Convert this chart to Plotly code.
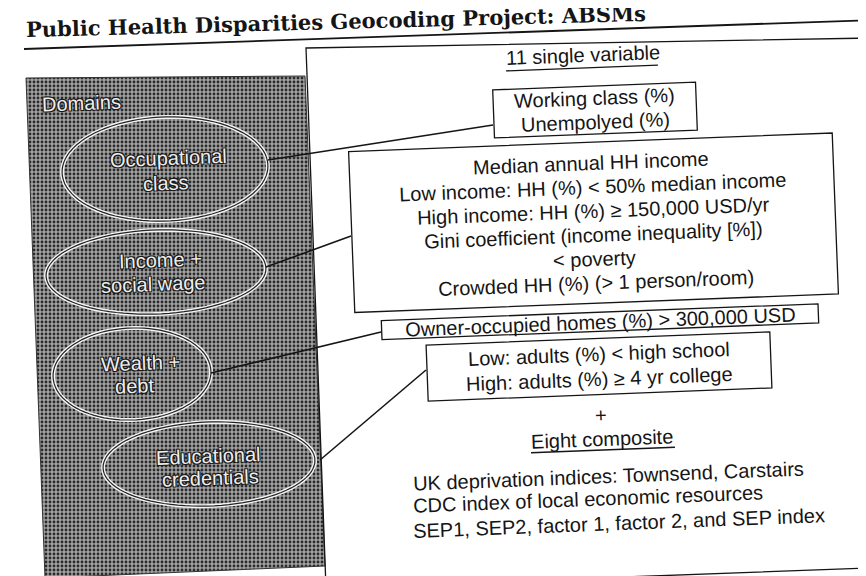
import math
import plotly.graph_objects as go

# ---------------- content (text of the diagram) ----------------
title_text = "Public Health Disparities Geocoding Project: ABSMs"
domains_label = "Domains"
domain_names = [
    ["Occupational", "class"],
    ["Income +", "social wage"],
    ["Wealth +", "debt"],
    ["Educational", "credentials"],
]
single_header = "11 single variable"
single_groups = [
    ["Working class (%)", "Unempolyed (%)"],
    ["Median annual HH income",
     "Low income: HH (%) < 50% median income",
     "High income: HH (%) \u2265 150,000 USD/yr",
     "Gini coefficient (income inequality [%])",
     "< poverty",
     "Crowded HH (%) (> 1 person/room)"],
    ["Owner-occupied homes (%) > 300,000 USD"],
    ["Low: adults (%) < high school",
     "High: adults (%) \u2265 4 yr college"],
]
plus_sign = "+"
composite_header = "Eight composite"
composite_items = [
    "UK deprivation indices: Townsend, Carstairs",
    "CDC index of local economic resources",
    "SEP1, SEP2, factor 1, factor 2, and SEP index",
]

# ---------------- layout geometry (pixels of the page) ----------------
W, H = 866, 576
TILT = 2.2
th = math.radians(TILT)
UX, UY = math.cos(th), -math.sin(th)
VX, VY = math.sin(th), math.cos(th)

ellipse_geo = [(157, 161, 103, 52), (148, 264, 110, 42), (124, 366, 79, 46), (201, 456, 106, 42)]
ellipse_text_centers = [[(160, 150), (158, 175)], [(152, 252), (145, 276)],
                        [(132, 355), (126, 378)], [(200, 448), (202, 470)]]
box_geo = [(587, 102, 203, 48), (585.5, 214.75, 484, 161), (592, 313.75, 437, 19), (591, 358.5, 344, 56)]
box_line_gap = [25, 24, 0, 25]
connectors = [((260, 152), (485, 117)), ((258, 259), (343, 228)),
              ((203, 365), (373, 324)), ((312, 452), (418, 362))]
grey_panel = [(18, 70), (297, 68), (317, 558), (37, 570)]
big_box = [(298, 40), (863, 30), (885, 559), (318, 580)]

FONT = "Liberation Sans"
INK = "#151515"


def esc(s):
    return s.replace("&", "&amp;").replace("<", "&lt;").replace(">", "&gt;")


def along(cx, cy, a, b):
    return cx + a * UX + b * VX, cy + a * UY + b * VY


def poly_path(pts):
    return "M " + " L ".join(f"{x:.1f},{y:.1f}" for x, y in pts) + " Z"


def rot_rect(cx, cy, w, h):
    return poly_path([along(cx, cy, a, b) for a, b in
                      [(-w / 2, -h / 2), (w / 2, -h / 2), (w / 2, h / 2), (-w / 2, h / 2)]])


def rot_ellipse(cx, cy, rx, ry, n=90):
    pts = []
    for k in range(n):
        t = 2 * math.pi * k / n
        pts.append(along(cx, cy, rx * math.cos(t), ry * math.sin(t)))
    return poly_path(pts)


fig = go.Figure()

# grey "Domains" panel
gx = [p[0] for p in grey_panel] + [grey_panel[0][0]]
gy = [p[1] for p in grey_panel] + [grey_panel[0][1]]
fig.add_trace(go.Scatter(
    x=gx, y=gy, mode="lines", fill="toself",
    fillcolor="#8c8c8c",
    fillpattern=dict(shape=".", bgcolor="#a2a2a2", fgcolor="#2a2a2a",
                     size=4, solidity=0.4, fillmode="replace"),
    line=dict(color="#333333", width=1), hoverinfo="skip"))

shapes = []
# big right frame
shapes.append(dict(type="path", path=poly_path(big_box), line=dict(color=INK, width=1.3),
                   xref="x", yref="y"))
# title rule
shapes.append(dict(type="line", x0=16, y0=41, x1=866, y1=12, xref="x", yref="y",
                   line=dict(color=INK, width=1.8)))

# ellipses
for (cx, cy, rx, ry) in ellipse_geo:
    shapes.append(dict(type="path", path=rot_ellipse(cx, cy, rx, ry), xref="x", yref="y",
                       line=dict(color="#f4f4f4", width=4)))
    shapes.append(dict(type="path", path=rot_ellipse(cx, cy, rx, ry), xref="x", yref="y",
                       line=dict(color="#222222", width=1.2)))

# connectors
for (p0, p1) in connectors:
    shapes.append(dict(type="line", x0=p0[0], y0=p0[1], x1=p1[0], y1=p1[1], xref="x", yref="y",
                       line=dict(color=INK, width=1.6)))

# boxes
for (cx, cy, w, h) in box_geo:
    shapes.append(dict(type="path", path=rot_rect(cx, cy, w, h), xref="x", yref="y",
                       fillcolor="white", line=dict(color=INK, width=1.3)))

annotations = []


def add_text(text, x, y, size=20, color=INK, family=FONT, xanchor="center", shadow=None,
             angle=-TILT, weight=None):
    f = dict(family=family, size=size, color=color)
    if shadow:
        f["shadow"] = shadow
    if weight:
        f["weight"] = weight
    annotations.append(dict(text=esc(text), x=x, y=y, xref="x", yref="y", showarrow=False,
                            xanchor=xanchor, yanchor="middle", textangle=angle, font=f))


# title
add_text(title_text, 16, 13, size=21, family="DejaVu Serif", xanchor="left", angle=-1.5,
         weight="bold")

# domains labels
outline = "-1px -1px 0 #1a1a1a, 1px -1px 0 #1a1a1a, -1px 1px 0 #1a1a1a, 1px 1px 0 #1a1a1a"
add_text(domains_label, 32, 95, color="#eeeeee", xanchor="left", shadow=outline)
for names, centers in zip(domain_names, ellipse_text_centers):
    for name, (x, y) in zip(names, centers):
        add_text(name, x, y, color="#eeeeee", shadow=outline)

# header + underline
add_text(single_header, 575, 47)
for (cx, cy, L) in [(574, 60, 152)]:
    x0, y0 = along(cx, cy, -L / 2, 0)
    x1, y1 = along(cx, cy, L / 2, 0)
    shapes.append(dict(type="line", x0=x0, y0=y0, x1=x1, y1=y1, xref="x", yref="y",
                       line=dict(color=INK, width=1.3)))

# box texts
for lines, (cx, cy, w, h), gap in zip(single_groups, box_geo, box_line_gap):
    n = len(lines)
    for i, t in enumerate(lines):
        off = (i - (n - 1) / 2) * gap
        x, y = along(cx, cy, 0, off)
        add_text(t, x, y)

# plus and composite header
add_text(plus_sign, 593, 407)
add_text(composite_header, 594, 431)
x0, y0 = along(595, 442, -72, 0)
x1, y1 = along(595, 442, 72, 0)
shapes.append(dict(type="line", x0=x0, y0=y0, x1=x1, y1=y1, xref="x", yref="y",
                   line=dict(color=INK, width=1.3)))

# composite items (left aligned)
for t, y in zip(composite_items, [467.5, 491.2, 515.0]):
    add_text(t, 403, y, xanchor="left")

fig.update_layout(
    width=W, height=H, margin=dict(l=0, r=0, t=0, b=0),
    paper_bgcolor="white", plot_bgcolor="white", showlegend=False,
    xaxis=dict(range=[0, W], visible=False, fixedrange=True),
    yaxis=dict(range=[H, 0], visible=False, fixedrange=True),
    shapes=shapes, annotations=annotations,
)

fig.write_html("out.html")
